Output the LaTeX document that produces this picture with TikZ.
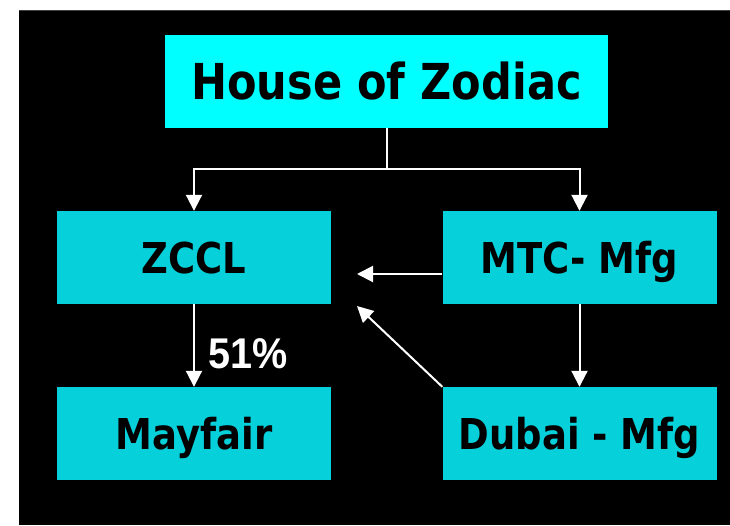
\documentclass[tikz,border=0pt]{standalone}
\usepackage{fontspec}
\usepackage{graphicx}
\usetikzlibrary{arrows.meta}
\newfontfamily\vfont{DejaVu Sans}[BoldFont={DejaVu Sans Bold}]
\newfontfamily\afont{Liberation Sans}
\definecolor{boxcyan}{RGB}{6,208,218}
\definecolor{topcyan}{RGB}{0,255,255}
\definecolor{edgegray}{RGB}{64,64,64}
\tikzset{
  orgbox/.style={fill=boxcyan, draw=none, inner sep=0pt, minimum width=274pt, minimum height=93pt,
     text height=31pt, text depth=0pt, font=\vfont\bfseries\fontsize{42.5}{42.5}\selectfont},
  titlebox/.style={orgbox, fill=topcyan, minimum width=443pt, text height=36pt,
     font=\vfont\bfseries\fontsize{49.5}{49.5}\selectfont},
  arr/.style={draw=white, line width=2pt, -{Triangle[length=16pt,width=16pt]}},
  plain/.style={draw=white, line width=2pt},
}
\begin{document}
\begin{tikzpicture}[x=1pt,y=-1pt]
\useasboundingbox (0,0) rectangle (730,525);
\fill[white] (0,0) rectangle (730,525);
\fill[black] (19,10) rectangle (730,525);
\draw[edgegray, line width=1pt] (19,10.5) -- (730,10.5);
\node[titlebox] (hz) at (386.5,81.5) {\scalebox{0.87}[1]{House of Zodiac}};
\node[orgbox] (zccl) at (194,257.5) {\scalebox{0.87}[1]{ZCCL}};
\node[orgbox] (mtc) at (579.5,257.5) {\scalebox{0.87}[1]{MTC- Mfg}};
\node[orgbox] (may) at (194,433.5) {\scalebox{0.87}[1]{Mayfair}};
\node[orgbox] (dub) at (579.5,433.5) {\scalebox{0.87}[1]{Dubai - Mfg}};
\node[anchor=base west, inner sep=0pt, text=white, font=\afont\bfseries\fontsize{43}{43}\selectfont] (pct) at (208,368) {\scalebox{0.92}[1]{51\%}};
\coordinate (j) at (386.5,169);
\coordinate (t1) at (357,274);
\coordinate (t2) at (357,306);
\draw[plain] (hz.south) -- (j);
\draw[arr] (j) -| (zccl.north);
\draw[arr] (j) -| (mtc.north);
\draw[arr] ([yshift=-16.5pt]mtc.west) -- (t1);
\draw[arr] (dub.north west) -- (t2);
\draw[arr] (zccl.south) -- (may.north);
\draw[arr] (mtc.south) -- (dub.north);
\end{tikzpicture}
\end{document}
